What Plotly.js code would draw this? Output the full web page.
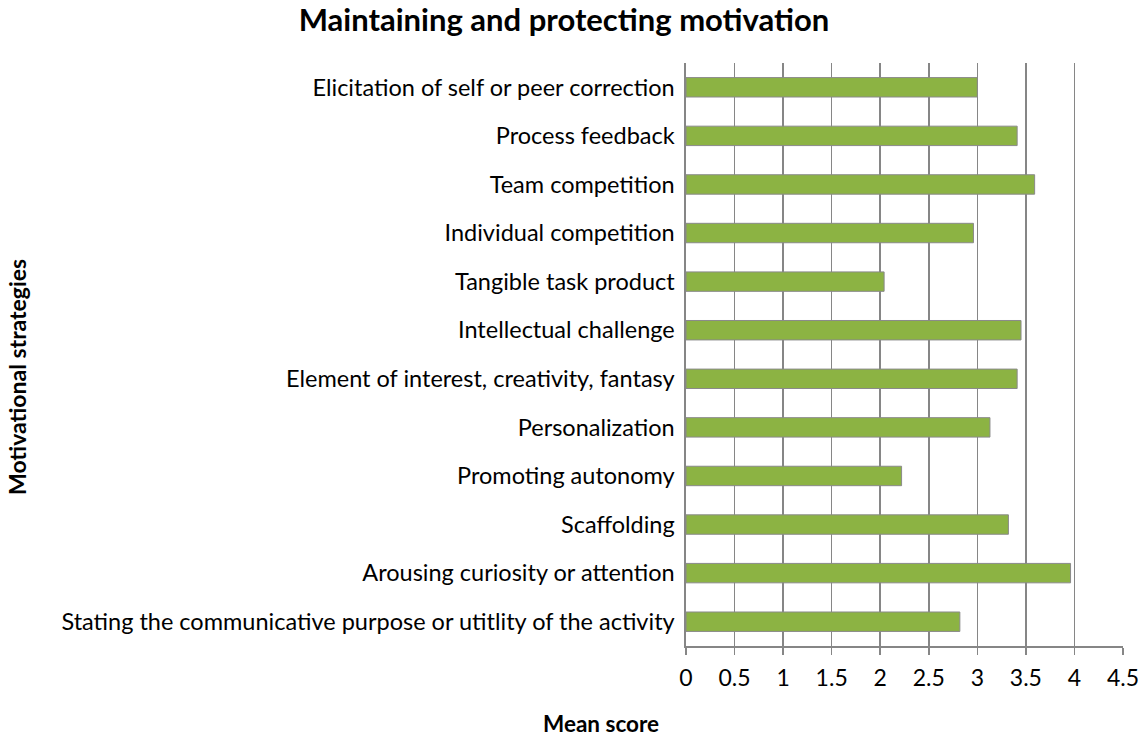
<!DOCTYPE html>
<html>
<head>
<meta charset="utf-8">
<script src="https://cdn.plot.ly/plotly-3.0.1.min.js"></script>
<style>html,body{margin:0;padding:0;background:#fff;}#chart{width:1139px;height:738px;}</style>
</head>
<body>
<div id="chart"></div>
<script>
const categories = [
  "Elicitation of self or peer correction",
  "Process feedback",
  "Team competition",
  "Individual competition",
  "Tangible task product",
  "Intellectual challenge",
  "Element of interest, creativity, fantasy",
  "Personalization",
  "Promoting autonomy",
  "Scaffolding",
  "Arousing curiosity or attention",
  "Stating the communicative purpose or utitlity of the activity"
];
const meanScores = [3.00, 3.41, 3.59, 2.96, 2.04, 3.45, 3.41, 3.13, 2.22, 3.32, 3.96, 2.82];
const xTicks = [0, 0.5, 1, 1.5, 2, 2.5, 3, 3.5, 4, 4.5];
const xTickLabels = ["0", "0.5", "1", "1.5", "2", "2.5", "3", "3.5", "4", "4.5"];

const FONT = "Lato, Carlito, 'Open Sans', sans-serif";

const trace = {
  type: "bar",
  orientation: "h",
  x: meanScores,
  y: categories,
  width: 0.4,
  marker: {color: "#8cb343", line: {color: "#8a8a8a", width: 1}},
  hoverinfo: "x+y"
};

const layout = {
  width: 1139, height: 738,
  paper_bgcolor: "#ffffff", plot_bgcolor: "#ffffff",
  margin: {l: 686, r: 16, t: 63, b: 92},
  font: {family: FONT, size: 23, color: "#000"},
  title: {
    text: "<b>Maintaining and protecting motivation</b>",
    font: {family: FONT, size: 31, color: "#000"},
    xref: "container", yref: "container",
    x: 564/1139, xanchor: "center",
    y: 1 - 20/738, yanchor: "middle"
  },
  showlegend: false,
  xaxis: {
    range: [0, 4.5],
    tickmode: "array", tickvals: xTicks, ticktext: xTickLabels,
    showgrid: true, gridcolor: "#868686", gridwidth: 1.6,
    zeroline: false,
    showline: true, linecolor: "#868686", linewidth: 1.6,
    ticks: "outside", ticklen: 7, tickcolor: "#868686", tickwidth: 1.6,
    ticklabeloverflow: "allow",
    ticklabelstandoff: 4,
    tickfont: {family: FONT, size: 23, color: "#000"},
    fixedrange: true
  },
  yaxis: {
    autorange: "reversed",
    type: "category",
    showgrid: false, zeroline: false,
    showline: true, linecolor: "#868686", linewidth: 1.6,
    ticks: "", ticklabelstandoff: 5,
    tickfont: {family: FONT, size: 23.5, color: "#000"},
    fixedrange: true
  },
  annotations: [
    {text: "<b>Mean score</b>", xref: "paper", yref: "paper",
     x: (601-686)/437, y: -(724-646)/583, xanchor: "center", yanchor: "middle",
     showarrow: false, font: {family: FONT, size: 22.5, color: "#000"}},
    {text: "<b>Motivational strategies</b>", xref: "paper", yref: "paper",
     x: (17-686)/437, y: 1 - (377-63)/583, xanchor: "center", yanchor: "middle",
     textangle: -90, showarrow: false, font: {family: FONT, size: 23, color: "#000"}}
  ]
};

Plotly.newPlot("chart", [trace], layout, {displayModeBar: false, staticPlot: true});
</script>
</body>
</html>
